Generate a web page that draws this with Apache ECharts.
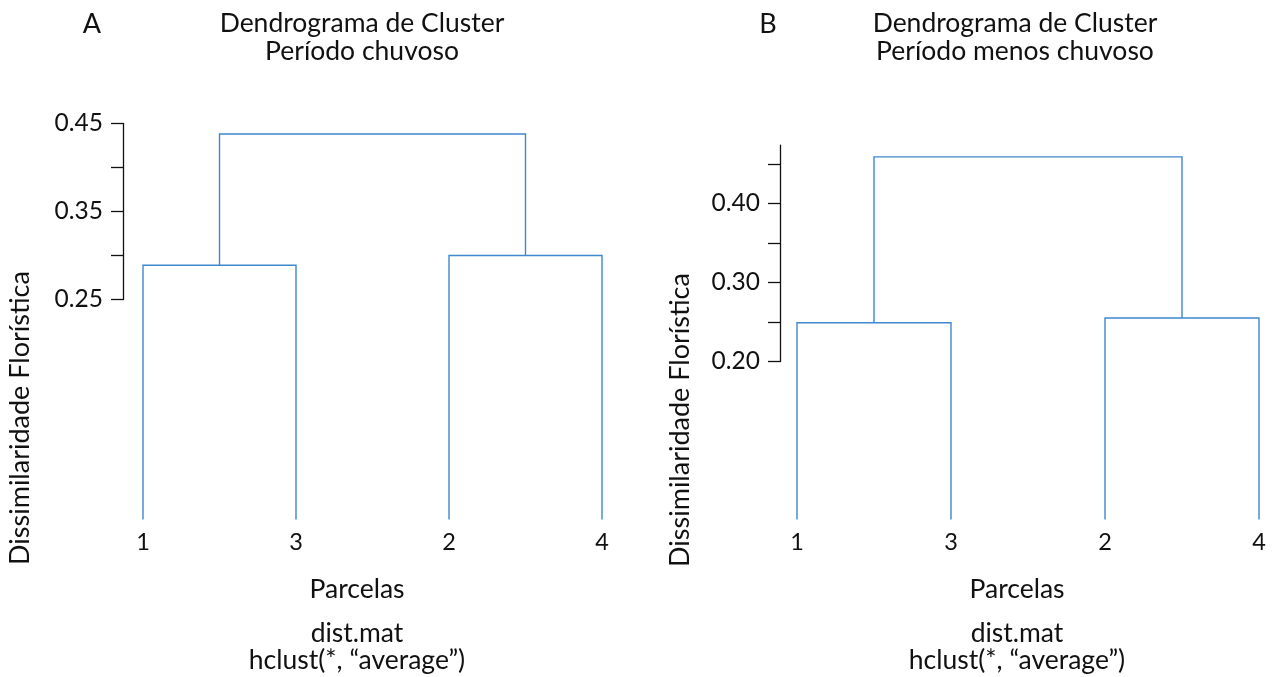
<!DOCTYPE html>
<html><head><meta charset="utf-8">
<script src="https://cdn.jsdelivr.net/npm/echarts@6/dist/echarts.min.js"></script>
<style>html,body{margin:0;padding:0;background:#fff}#c{width:1272px;height:677px}</style>
</head><body><div id="c"></div>
<script>
// ---- Data ----
const leavesA = ['1', '3', '2', '4'];
const mergesA = [[-1, -2], [-3, -4], [1, 2]];   // hclust-style merge table
const heightsA = [0.289, 0.300, 0.438];
const tickValuesA = [0.25, 0.30, 0.35, 0.40, 0.45];
const tickLabelsA = [0.25, 0.35, 0.45];

const leavesB = ['1', '3', '2', '4'];
const mergesB = [[-1, -2], [-3, -4], [1, 2]];
const heightsB = [0.249, 0.255, 0.459];
const tickValuesB = [0.20, 0.25, 0.30, 0.35, 0.40, 0.45];
const tickLabelsB = [0.20, 0.30, 0.40];

// ---- Layout / style ----
const FONT = 'Lato';
const BLUE = '#3f87cf';
const INK = '#111';
const H = 677;
const TS = 26.5;
const panels = [
  { leaves: leavesA, merges: mergesA, heights: heightsA, ticks: tickValuesA, labels: tickLabelsA,
    axisMin: 0.25, axisMax: 0.45, leafLeft: 143, leafRight: 602, axisX: 123, zeroY: 519.5, k: 880 },
  { leaves: leavesB, merges: mergesB, heights: heightsB, ticks: tickValuesB, labels: tickLabelsB,
    axisMin: 0.20, axisMax: 0.474, leafLeft: 797, leafRight: 1259, axisX: 780, zeroY: 519.5, k: 790 }
];
const DATA_MAX = 0.5;

function buildSegments(merges, heights) {
  const nodeX = [], nodeH = [];
  const pos = ref => ref < 0 ? [(-ref) - 1, 0] : [nodeX[ref - 1], nodeH[ref - 1]];
  const segs = [];
  merges.forEach((m, i) => {
    const l = pos(m[0]), r = pos(m[1]);
    nodeX[i] = (l[0] + r[0]) / 2;
    nodeH[i] = heights[i];
    segs.push([l[0], l[1], r[0], r[1], heights[i]]);
  });
  return segs;
}

const grid = [], xAxis = [], yAxis = [], series = [];
panels.forEach((p, i) => {
  grid.push({ left: p.leafLeft, width: p.leafRight - p.leafLeft,
              top: p.zeroY - p.k * DATA_MAX, bottom: H - p.zeroY, containLabel: false });
  grid.push({ left: p.axisX, width: 1,
              top: p.zeroY - p.k * p.axisMax, height: p.k * (p.axisMax - p.axisMin), containLabel: false });
  const gd = 2 * i, ga = 2 * i + 1;
  const leaves = p.leaves;
  xAxis.push({ type: 'value', gridIndex: gd, min: 0, max: leaves.length - 1, interval: 1,
    axisLine: { show: false }, axisTick: { show: false }, splitLine: { show: false },
    axisLabel: { formatter: v => leaves[v] ?? '', margin: 11, fontSize: 23.5, fontFamily: FONT, color: INK } });
  yAxis.push({ type: 'value', gridIndex: gd, min: 0, max: DATA_MAX, show: false, splitLine: { show: false } });
  xAxis.push({ type: 'value', gridIndex: ga, show: false, min: 0, max: 1 });
  yAxis.push({ type: 'value', gridIndex: ga, min: p.axisMin, max: p.axisMax,
    splitLine: { show: false },
    axisLine: { show: true, lineStyle: { color: INK, width: 1.3 } },
    axisTick: { show: true, length: 12, customValues: p.ticks, lineStyle: { color: INK, width: 1.3 } },
    axisLabel: { customValues: p.labels, formatter: v => Number(v).toFixed(2), margin: 20,
                 fontSize: 24.5, fontFamily: FONT, color: INK } });
  series.push({ type: 'custom', xAxisIndex: gd, yAxisIndex: gd,
    data: buildSegments(p.merges, p.heights),
    encode: { x: [0, 2], y: [1, 3, 4] },
    renderItem: (params, api) => {
      const p1 = api.coord([api.value(0), api.value(1)]);
      const p2 = api.coord([api.value(0), api.value(4)]);
      const p3 = api.coord([api.value(2), api.value(4)]);
      const p4 = api.coord([api.value(2), api.value(3)]);
      return { type: 'polyline', shape: { points: [p1, p2, p3, p4] },
               style: { stroke: BLUE, lineWidth: 1.4, fill: null } };
    }
  });
});

function txt(text, x, y, size, extra) {
  return Object.assign({ type: 'text', x, y,
    style: { text, fontSize: size, fontFamily: FONT, fill: INK, align: 'center', verticalAlign: 'middle', lineHeight: 27.5 } }, extra || {});
}
const graphic = [
  txt('A', 92, 24, 27),
  txt('B', 768, 24, 27),
  txt('Dendrograma de Cluster\nPeríodo chuvoso', 362, 37.5, TS),
  txt('Dendrograma de Cluster\nPeríodo menos chuvoso', 1015, 37.5, TS),
  txt('Dissimilaridade Florística', 20, 418, 27, { rotation: Math.PI / 2 }),
  txt('Dissimilaridade Florística', 680, 420, 27, { rotation: Math.PI / 2 }),
  txt('Parcelas', 357, 589, TS),
  txt('Parcelas', 1017, 589, TS),
  txt('dist.mat\nhclust(*, “average”)', 357, 647, TS),
  txt('dist.mat\nhclust(*, “average”)', 1017, 647, TS)
];

const chart = echarts.init(document.getElementById('c'), null, { renderer: 'canvas' });
chart.setOption({ backgroundColor: '#fff', animation: false, grid, xAxis, yAxis, series, graphic });
</script></body></html>
